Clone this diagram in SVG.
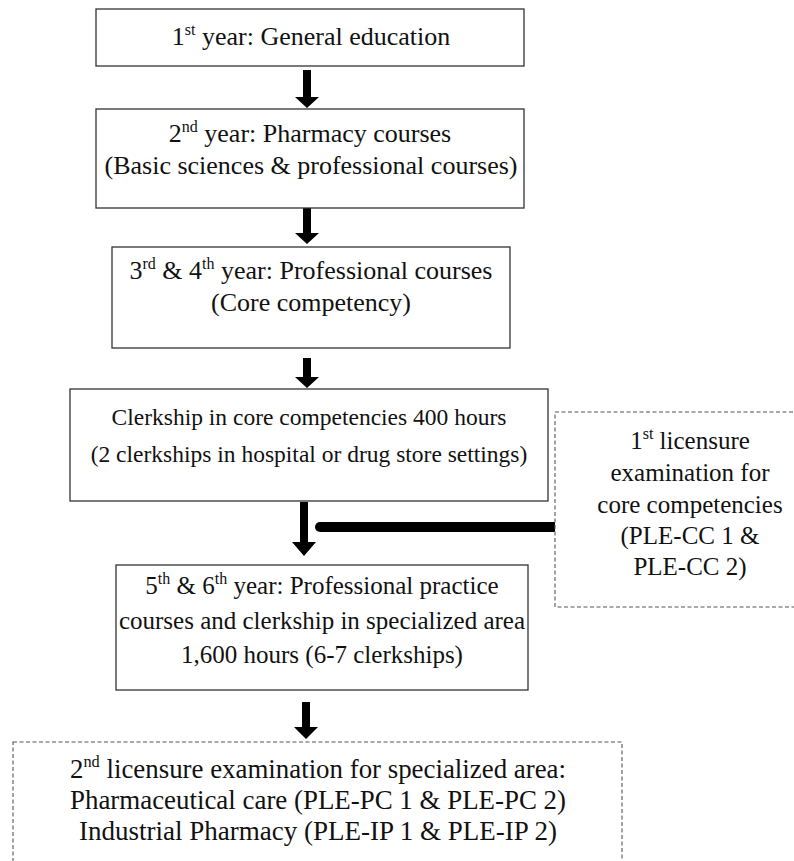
<svg xmlns="http://www.w3.org/2000/svg" width="794" height="861" viewBox="0 0 794 861">
  <style>
    .box { fill: #ffffff; stroke: #333333; stroke-width: 1.3; }
    .dash { fill: #ffffff; stroke: #555555; stroke-width: 1.1; stroke-dasharray: 4 2.5; }
    .t { font-family: "Liberation Serif", "Times New Roman", Tinos, "DejaVu Serif", serif; font-size: 26px; fill: #111111; text-anchor: middle; }
    .s { font-size: 23.5px; }
    .m { font-size: 25px; }
    .sup { font-size: 16px; }
    .arrow { fill: #000000; }
  </style>
  <rect width="794" height="861" fill="#ffffff"/>

  <!-- connectors -->
  <g id="connectors">
    <path class="arrow" d="M303,70 H311 V97 H319 L307,108 L295,97 H303 Z"/>
    <path class="arrow" d="M303,206 H311 V233 H319 L307,244 L295,233 H303 Z"/>
    <path class="arrow" d="M303,358 H311 V377 H319 L307,388 L295,377 H303 Z"/>
    <path class="arrow" d="M300,502 H308 V542 H316 L304,556 L292,542 H300 Z"/>
    <path class="arrow" d="M302,702 H310 V727 H318 L306,739 L294,727 H302 Z"/>
    <line x1="320" y1="527" x2="554" y2="527" stroke="#000000" stroke-width="10" stroke-linecap="round"/>
  </g>

  <g id="year1">
    <rect class="box" x="96" y="9" width="428" height="57"/>
    <text class="t" x="311" y="45">1<tspan class="sup" dy="-10">st</tspan><tspan dy="10"> year: General education</tspan></text>
  </g>

  <g id="year2">
    <rect class="box" x="96" y="109" width="428" height="99"/>
    <text class="t" x="310" y="142">2<tspan class="sup" dy="-10">nd</tspan><tspan dy="10"> year: Pharmacy courses</tspan></text>
    <text class="t" x="311" y="174">(Basic sciences &amp; professional courses)</text>
  </g>

  <g id="year3-4">
    <rect class="box" x="112" y="247" width="398" height="101"/>
    <text class="t" x="311" y="279">3<tspan class="sup" dy="-10">rd</tspan><tspan dy="10"> &amp; 4</tspan><tspan class="sup" dy="-10">th</tspan><tspan dy="10"> year: Professional courses</tspan></text>
    <text class="t" x="311" y="311">(Core competency)</text>
  </g>

  <g id="clerkship-core">
    <rect class="box" x="70" y="389" width="478" height="112"/>
    <text class="t s" x="309" y="425">Clerkship in core competencies 400 hours</text>
    <text class="t s" x="309" y="462">(2 clerkships in hospital or drug store settings)</text>
  </g>

  <g id="exam-core">
    <rect class="dash" x="555" y="412" width="260" height="195"/>
    <text class="t m" x="690" y="449">1<tspan class="sup" dy="-10">st</tspan><tspan dy="10"> licensure</tspan></text>
    <text class="t m" x="690" y="481">examination for</text>
    <text class="t m" x="690" y="513">core competencies</text>
    <text class="t m" x="690" y="544">(PLE-CC 1 &amp;</text>
    <text class="t m" x="690" y="575">PLE-CC 2)</text>
  </g>

  <g id="year5-6">
    <rect class="box" x="116" y="565" width="412" height="125"/>
    <text class="t m" x="322" y="594">5<tspan class="sup" dy="-10">th</tspan><tspan dy="10"> &amp; 6</tspan><tspan class="sup" dy="-10">th</tspan><tspan dy="10"> year: Professional practice</tspan></text>
    <text class="t m" x="322" y="629">courses and clerkship in specialized area</text>
    <text class="t m" x="322" y="663">1,600 hours (6-7 clerkships)</text>
  </g>

  <g id="exam-specialized">
    <rect class="dash" x="13" y="742" width="609" height="140"/>
    <text class="t" x="318" y="778" style="font-size:28px" textLength="496" lengthAdjust="spacingAndGlyphs">2<tspan class="sup" dy="-11" style="font-size:17px">nd</tspan><tspan dy="11"> licensure examination for specialized area:</tspan></text>
    <text class="t" x="318" y="809" style="font-size:28px" textLength="496" lengthAdjust="spacingAndGlyphs">Pharmaceutical care (PLE-PC 1 &amp; PLE-PC 2)</text>
    <text class="t" x="318" y="840" style="font-size:28px" textLength="478" lengthAdjust="spacingAndGlyphs">Industrial Pharmacy (PLE-IP 1 &amp; PLE-IP 2)</text>
  </g>
</svg>
